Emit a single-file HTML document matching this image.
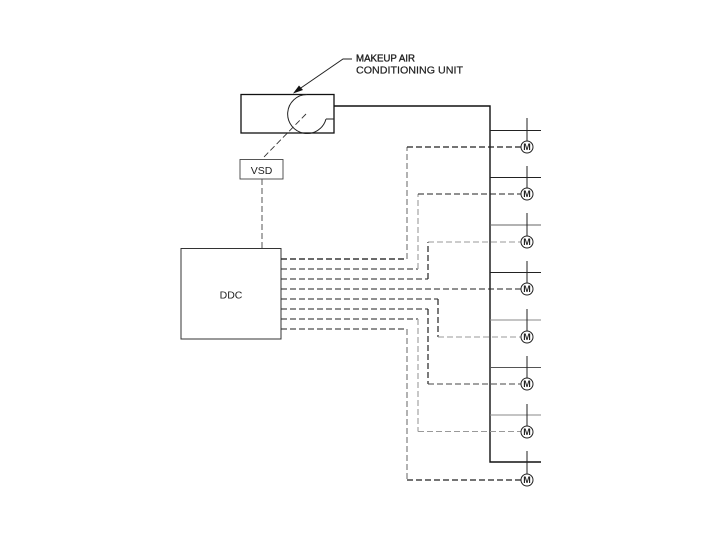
<!DOCTYPE html>
<html>
<head>
<meta charset="utf-8">
<style>
html,body{margin:0;padding:0;background:#fff;width:720px;height:540px;overflow:hidden}
svg{display:block;filter:blur(0.3px)}
text{font-family:"Liberation Sans",sans-serif;fill:#222}
</style>
</head>
<body>
<svg width="720" height="540" viewBox="0 0 720 540" xmlns="http://www.w3.org/2000/svg">
<rect width="720" height="540" fill="#fff"/>
<!-- Makeup air unit -->
<rect x="241" y="94.5" width="93" height="38.5" fill="none" stroke="#111" stroke-width="1.3"/>
<path d="M326 119 A19.5 19.5 0 1 1 307 94.5" fill="none" stroke="#222" stroke-width="1"/>
<path d="M326 119 H334" fill="none" stroke="#222" stroke-width="1"/>
<path d="M306 114 L262 159" fill="none" stroke="#333" stroke-width="0.9" stroke-dasharray="6 3"/>
<!-- Leader -->
<path d="M352 59 H343 L295 92" fill="none" stroke="#222" stroke-width="1"/>
<path d="M293 93.5 L299 85.5 L303 90 Z" fill="#111"/>
<text x="356" y="61.5" font-size="10.3" textLength="59" lengthAdjust="spacingAndGlyphs" stroke="#222" stroke-width="0.35">MAKEUP AIR</text>
<text x="356" y="73.5" font-size="10.3" textLength="107" lengthAdjust="spacingAndGlyphs" stroke="#222" stroke-width="0.2">CONDITIONING UNIT</text>
<!-- VSD -->
<rect x="240" y="159.5" width="43" height="19.5" fill="none" stroke="#444" stroke-width="0.9"/>
<text x="261.5" y="174" font-size="10.5" text-anchor="middle">VSD</text>
<path d="M262 179 V248" fill="none" stroke="#444" stroke-width="0.9" stroke-dasharray="6 3"/>
<!-- DDC -->
<rect x="181" y="248.5" width="100" height="90.5" fill="none" stroke="#333" stroke-width="1"/>
<text x="231" y="298.5" font-size="10.5" text-anchor="middle" fill="#333">DDC</text>
<!-- Main duct -->
<path d="M334 106 H490 V462 H541" fill="none" stroke="#111" stroke-width="1.4"/>
<g fill="none" stroke="#222" stroke-width="1">
<path d="M490 130.5 H541"/>
<path d="M490 177.5 H541"/>
<path d="M490 225 H541" stroke="#666"/>
<path d="M490 272.5 H541"/>
<path d="M490 320 H541" stroke="#888"/>
<path d="M490 367.5 H541" stroke="#555"/>
<path d="M490 415 H541" stroke="#888"/>
</g>
<!-- Damper stems -->
<g fill="none" stroke="#222" stroke-width="1">
<path d="M527 118 V141"/>
<path d="M527 166 V188"/>
<path d="M527 213 V236"/>
<path d="M527 261 V283"/>
<path d="M527 309 V331"/>
<path d="M527 356 V378"/>
<path d="M527 404 V426"/>
<path d="M527 451 V474"/>
</g>
<!-- Control lines -->
<g fill="none" stroke-width="1" stroke-dasharray="6 3">
<path d="M281 259 H407" stroke="#111" stroke-width="1.2"/>
<path d="M407 259 V147" stroke="#666"/>
<path d="M407 147 H521" stroke="#222" stroke-width="1.2"/>
<path d="M281 269 H418" stroke="#222"/>
<path d="M418 269 V194" stroke="#aaa" stroke-width="1.3"/>
<path d="M418 194 H521" stroke="#222"/>
<path d="M281 279 H428" stroke="#222"/>
<path d="M428 279 V242" stroke="#222" stroke-width="1.2"/>
<path d="M428 242 H521" stroke="#999"/>
<path d="M281 289 H521" stroke="#222"/>
<path d="M281 299 H438" stroke="#222"/>
<path d="M438 299 V337" stroke="#333" stroke-width="1.3"/>
<path d="M438 337 H521" stroke="#999"/>
<path d="M281 309 H428" stroke="#222"/>
<path d="M428 309 V384" stroke="#222" stroke-width="1.2"/>
<path d="M428 384 H521" stroke="#444"/>
<path d="M281 319 H418" stroke="#222"/>
<path d="M418 319 V431.5" stroke="#aaa" stroke-width="1.3"/>
<path d="M418 431.5 H521" stroke="#999"/>
<path d="M281 329 H407" stroke="#222"/>
<path d="M407 329 V480" stroke="#666"/>
<path d="M407 480 H521" stroke="#222" stroke-width="1.2"/>
</g>
<!-- Motors -->
<g fill="#fff" stroke="#222" stroke-width="1">
<circle cx="527" cy="147" r="6"/>
<circle cx="527" cy="194" r="6"/>
<circle cx="527" cy="242" r="6"/>
<circle cx="527" cy="289" r="6"/>
<circle cx="527" cy="337" r="6"/>
<circle cx="527" cy="384" r="6"/>
<circle cx="527" cy="432" r="6"/>
<circle cx="527" cy="480" r="6"/>
</g>
<g font-size="9" font-weight="bold" text-anchor="middle">
<text x="527" y="150.2">M</text>
<text x="527" y="197.2">M</text>
<text x="527" y="245.2">M</text>
<text x="527" y="292.2">M</text>
<text x="527" y="340.2">M</text>
<text x="527" y="387.2">M</text>
<text x="527" y="435.2">M</text>
<text x="527" y="483.2">M</text>
</g>
</svg>
</body>
</html>
